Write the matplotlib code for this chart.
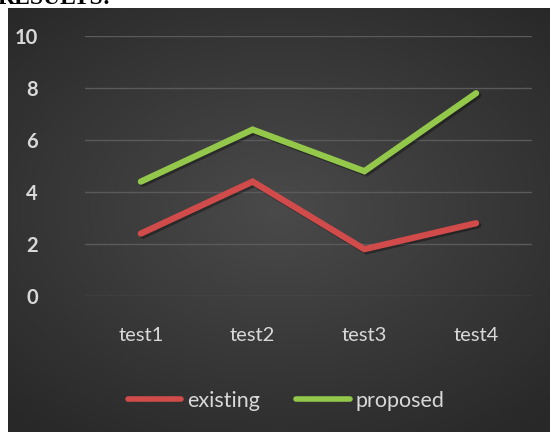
import numpy as np
import matplotlib
matplotlib.use("Agg")
import matplotlib.pyplot as plt
import matplotlib.patheffects as pe

categories = ["test1", "test2", "test3", "test4"]
existing = [2.4, 4.4, 1.8, 2.8]
proposed = [4.4, 6.4, 4.8, 7.8]
y_ticks = [0, 2, 4, 6, 8, 10]

W, H = 550, 432
fig = plt.figure(figsize=(W / 100, H / 100), dpi=100, facecolor="white")

# dark radial gradient panel
bg = fig.add_axes([8 / W, 0, 1 - 8 / W, (H - 8) / H])
bg.set_axis_off()
yy, xx = np.mgrid[-1:1:300j, -1:1:300j]
r = np.sqrt((xx * 0.9) ** 2 + ((yy + 0.05) * 1.0) ** 2)
shade = np.clip(1 - r / 1.3, 0, 1)
img = 0.16 + 0.13 * shade
bg.imshow(np.dstack([img, img, img]), aspect="auto", extent=[0, 1, 0, 1])

# heading cut off at the very top, as in the original screenshot
top = fig.add_axes([0, (H - 8) / H, 1, 8 / H])
top.set_axis_off()
top.set_xlim(0, W)
top.set_ylim(0, 8)
top.text(-2, 3.5, "RESULTS:", fontsize=17, fontweight="bold", family="Liberation Serif",
         color="black", va="baseline", ha="left", clip_on=True)

ax = fig.add_axes([85 / W, (H - 296) / H, 447 / W, 260 / H])
ax.patch.set_alpha(0)
x = np.arange(len(categories))
shadow = [pe.SimpleLineShadow(offset=(1.5, -1.5), shadow_color="black", alpha=0.35), pe.Normal()]
ax.plot(x, existing, color="#d24b4b", lw=4.5, solid_capstyle="round",
        solid_joinstyle="miter", label="existing", clip_on=False, path_effects=shadow)
ax.plot(x, proposed, color="#93c84a", lw=4.5, solid_capstyle="round",
        solid_joinstyle="miter", label="proposed", clip_on=False, path_effects=shadow)

ax.set_xlim(-0.5, 3.5)
ax.set_ylim(0, 10)
ax.set_yticks(y_ticks)
ax.set_xticks(x)
ax.set_xticklabels(categories, fontsize=14.5, color="#d9d9d9", family="Lato")
ax.set_yticklabels([str(v) for v in y_ticks], fontsize=14.5, fontweight="bold",
                   color="#d9d9d9", family="Lato")
ax.grid(axis="y", color="#5a5a5a", lw=1)
ax.set_axisbelow(True)
for s in ax.spines.values():
    s.set_visible(False)
ax.tick_params(length=0)
ax.tick_params(axis="y", pad=34)
ax.tick_params(axis="x", pad=22)

leg = fig.legend(loc="center", bbox_to_anchor=(286 / W, (H - 401) / H), ncol=2,
                 frameon=False, handlelength=2.5, columnspacing=1.7, handletextpad=0.25,
                 prop={"family": "Lato", "size": 15.5})
for t in leg.get_texts():
    t.set_color("#d9d9d9")
for l in leg.get_lines():
    l.set_linewidth(4)
    l.set_path_effects([])

fig.savefig("out.png", dpi=100, facecolor="white")
